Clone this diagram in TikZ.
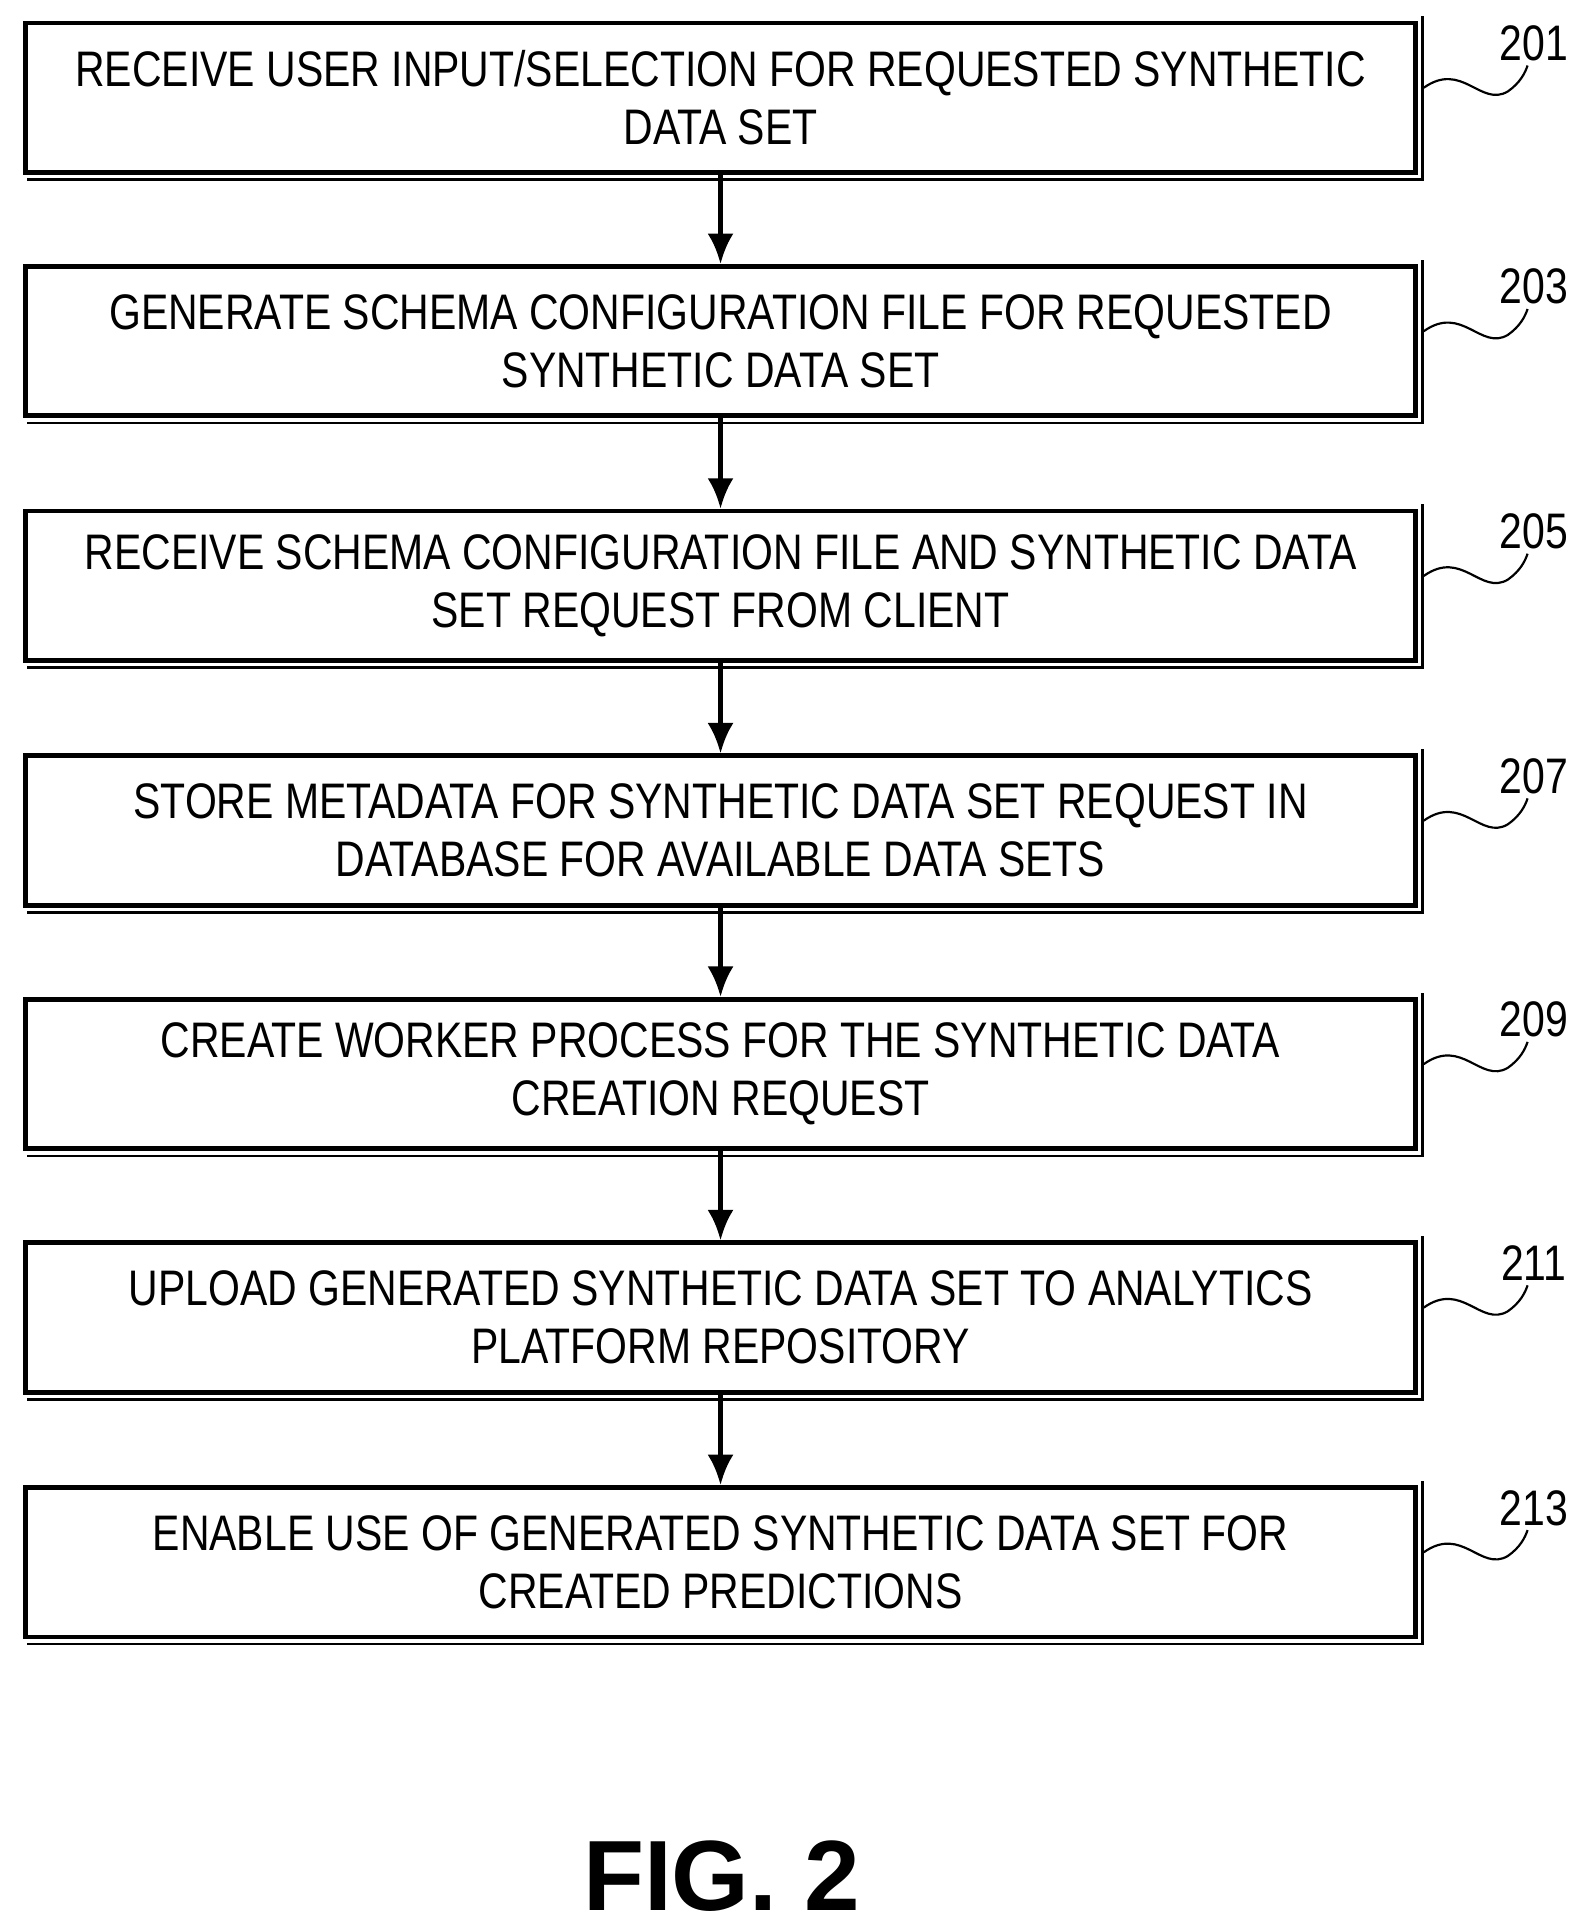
\documentclass[tikz,border=0pt]{standalone}
\usepackage{fontspec}
\usetikzlibrary{arrows.meta}
\setmainfont{Liberation Sans}[FakeStretch=0.82]
\newfontfamily\figfont{Liberation Sans}
\begin{document}
\begin{tikzpicture}[x=0.02cm,y=-0.02cm,
  box/.style={draw,line width=2.2pt,minimum width=22.5cm,minimum height=2.42cm,inner sep=0pt,
    align=center,font=\fontsize{23}{26.6}\selectfont},
  lbl/.style={font=\fontsize{23}{28}\selectfont},
  arr/.style={-{Latex[length=14pt,width=12pt]},line width=2.2pt},
  sq/.style={line width=1pt}]
\useasboundingbox (0,0) rectangle (1280,1560);
\foreach \n/\y/\t/\l in {
 a/79/{RECEIVE USER INPUT/SELECTION FOR REQUESTED SYNTHETIC\\DATA SET}/201,
 b/276/{GENERATE SCHEMA CONFIGURATION FILE FOR REQUESTED\\SYNTHETIC DATA SET}/203,
 c/474/{RECEIVE SCHEMA CONFIGURATION FILE AND SYNTHETIC DATA\\SET REQUEST FROM CLIENT}/205,
 d/672/{STORE METADATA FOR SYNTHETIC DATA SET REQUEST IN\\DATABASE FOR AVAILABLE DATA SETS}/207,
 e/869/{CREATE WORKER PROCESS FOR THE SYNTHETIC DATA\\CREATION REQUEST}/209,
 f/1066/{UPLOAD GENERATED SYNTHETIC DATA SET TO ANALYTICS\\PLATFORM REPOSITORY}/211,
 g/1264/{ENABLE USE OF GENERATED SYNTHETIC DATA SET FOR\\CREATED PREDICTIONS}/213}{
  \node[box] (\n) at (583,\y) {\t};
  \draw[line width=1.2pt] ([xshift=2pt,yshift=-2.2pt]\n.south west) -- ([xshift=2.2pt,yshift=-2.2pt]\n.south east) -- ([xshift=2.2pt,yshift=2pt]\n.north east);
  \node[lbl] (l\n) at (1241,\y-44) {\l};
  \draw[sq] (1152,\y-8) .. controls (1183,\y-30) and (1198,\y+8) .. (1220,\y-5) .. controls (1230,\y-12) and (1234,\y-20) .. (1236,\y-26);
}
\foreach \p/\q in {a/b,b/c,c/d,d/e,e/f,f/g}{\draw[arr] (\p.south) -- (\q.north);}
\node[font=\figfont\bfseries\fontsize{46}{56}\selectfont] (fig) at (584,1518) {FIG. 2};
\end{tikzpicture}
\end{document}
